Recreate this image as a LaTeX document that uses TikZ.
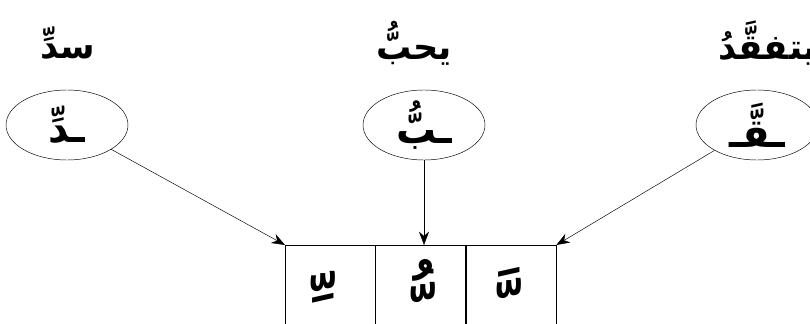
\documentclass[tikz,border=0pt]{standalone}
\usepackage{fontspec}
\newfontfamily\arabicfont[Script=Arabic]{DejaVu Sans}
\TeXXeTstate=1
\usetikzlibrary{arrows.meta, positioning, shapes.geometric}

\tikzset{
  word/.style={font=\arabicfont\bfseries\fontsize{30}{34}\selectfont, inner sep=0pt},
  letter/.style={draw, thin, ellipse, minimum width=3.66cm, minimum height=2.1cm,
    inner sep=0pt, font=\arabicfont\bfseries\fontsize{34}{38}\selectfont},
  cell/.style={draw, thin, minimum width=2.7cm, minimum height=3cm, inner sep=0pt},
  haraka/.style={font=\arabicfont\bfseries\fontsize{64}{68}\selectfont, inner sep=0pt},
  arr/.style={thin, -{Stealth[length=4mm, width=3mm]}}
}

\begin{document}
\begin{tikzpicture}
  \useasboundingbox (0,0) rectangle (24.3,9.69);

  % Words
  \node[word] (w1) at (2.04,8.4) {\beginR سدِّ\endR};
  \node[word] (w2) at (12.42,8.4) {\beginR يحبُّ\endR};
  \node[word, anchor=west] (w3) at (21.54,8.4) {\beginR يتفقَّدُ\endR};

  % Doubled letters
  \node[letter] (e1) at (2.01,5.94) {\beginR ـدِّ\endR};
  \node[letter] (e2) at (12.72,5.94) {\beginR ـبُّ\endR};
  \node[letter] (e3) at (22.71,5.94) {\beginR ـقَّـ\endR};

  % Cells
  \node[cell, anchor=north west] (c1) at (8.55,2.34) {};
  \node[cell, right=0pt of c1] (c2) {};
  \node[cell, right=0pt of c2] (c3) {};
  \node[haraka] (h1) at ([xshift=-0.78cm, yshift=-1.92cm]c1.north) {\beginR  ِّ\endR};
  \node[haraka] (h2) at ([xshift=-0.5cm, yshift=-1.74cm]c2.north) {\beginR  ُّ\endR};
  \node[haraka] (h3) at ([xshift=-0.63cm, yshift=-1.8cm]c3.north) {\beginR  َّ\endR};

  % Arrows
  \draw[arr] (e1) -- (c1.north west);
  \draw[arr] (e2.south) -- (e2.south |- c2.north);
  \draw[arr] (e3) -- (c3.north east);
\end{tikzpicture}
\end{document}
